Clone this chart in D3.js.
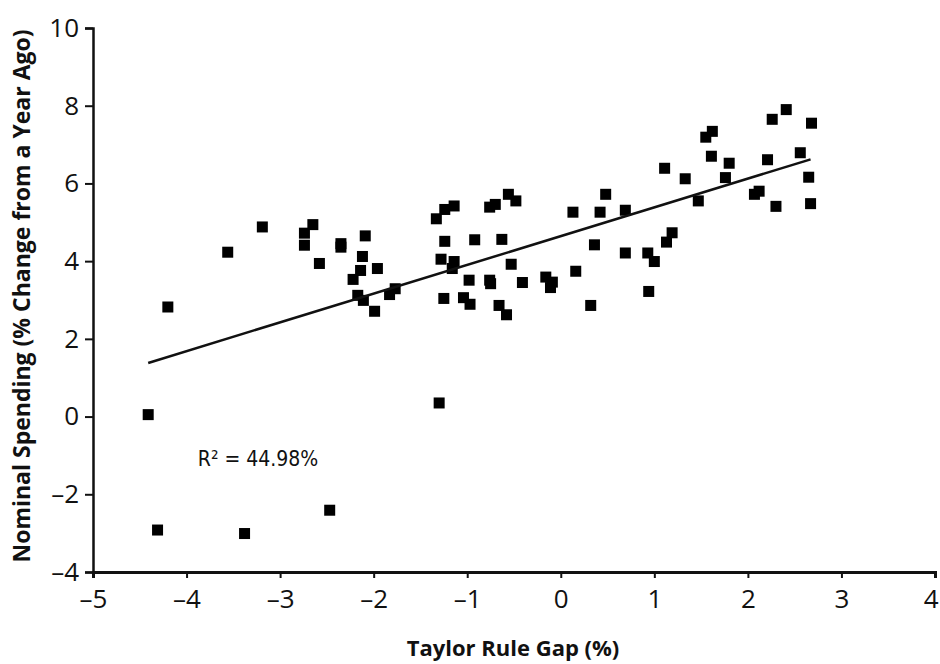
<!DOCTYPE html>
<html>
<head>
<meta charset="utf-8">
<script src="https://cdn.jsdelivr.net/npm/d3@7"></script>
<style>
  body { margin: 0; background: #fff; }
  .axis path, .axis line { stroke: #111; }
  .axis text { font-family: "Open Sans", "Noto Sans", sans-serif; fill: #111; }
</style>
</head>
<body>
<div id="chart"></div>
<script>
// Taylor rule gap (x) vs nominal spending growth (y)
var gapValues = [
  -4.41, -4.31, -4.20, -3.38, -2.47, -3.56, -3.19, -2.65, -2.74, -2.74,
  -2.58, -2.35, -2.35, -2.09, -2.12, -2.14, -2.22, -1.96, -2.17, -2.11,
  -1.99, -1.83, -1.77, -1.33, -1.24, -1.14, -1.24, -1.28, -1.14, -1.16,
  -1.25, -1.04, -0.97, -0.98, -0.92, -0.76, -0.70, -0.56, -0.48, -0.63,
  -0.53, -0.76, -0.75, -0.66, -0.58, -0.41, -0.16, -0.09, -0.11, 0.16,
  0.13, 0.42, 0.48, 0.36, 0.32, -1.30, 0.69, 1.11, 1.33, 1.47,
  1.55, 1.62, 1.61, 1.80, 1.76, 2.21, 2.26, 2.41, 2.68, 2.56,
  2.65, 2.67, 2.30, 2.07, 2.12, 0.69, 0.93, 1.00, 1.13, 1.19,
  0.94
];
var spendValues = [
  0.05, -2.92, 2.82, -3.01, -2.41, 4.23, 4.88, 4.94, 4.72, 4.41,
  3.94, 4.45, 4.36, 4.65, 4.12, 3.76, 3.53, 3.81, 3.12, 2.99,
  2.71, 3.14, 3.29, 5.09, 5.33, 5.42, 4.51, 4.05, 3.99, 3.81,
  3.04, 3.06, 2.89, 3.51, 4.55, 5.39, 5.46, 5.72, 5.55, 4.56,
  3.92, 3.51, 3.42, 2.86, 2.62, 3.45, 3.59, 3.46, 3.32, 3.74,
  5.26, 5.26, 5.72, 4.42, 2.86, 0.35, 5.31, 6.39, 6.12, 5.55,
  7.19, 7.34, 6.70, 6.52, 6.15, 6.61, 7.65, 7.90, 7.55, 6.79,
  6.16, 5.48, 5.41, 5.72, 5.80, 4.21, 4.21, 3.99, 4.49, 4.73,
  3.22
];
// fitted line end points
var trendX = [-4.41, 2.67];
var trendY = [1.38, 6.62];

var xTicks = [-5, -4, -3, -2, -1, 0, 1, 2, 3, 4];
var yTicks = [-4, -2, 0, 2, 4, 6, 8, 10];
var r2Label = "R\u00b2 = 44.98%";

var width = 940, height = 664;
var margin = { top: 28, right: 5, bottom: 92, left: 93 };
var w = width - margin.left - margin.right;
var h = height - margin.top - margin.bottom;

var svg = d3.select("#chart").append("svg")
    .attr("width", width)
    .attr("height", height);

var g = svg.append("g")
    .attr("transform", "translate(" + margin.left + "," + margin.top + ")");

var x = d3.scaleLinear().domain([-5, 4]).range([0, 842]);
var y = d3.scaleLinear().domain([-4, 10]).range([h, 0]);

var minus = function (d) { return d < 0 ? "\u2013" + Math.abs(d) : d; };

var xAxis = g.append("g")
    .attr("class", "x axis")
    .attr("transform", "translate(0," + h + ")")
    .call(d3.axisBottom(x).tickValues(xTicks).tickFormat(minus).tickSizeOuter(0).tickSize(6).tickPadding(12));
xAxis.select(".domain").attr("stroke-width", 3);
xAxis.selectAll(".tick line").attr("stroke-width", 2);
xAxis.selectAll(".tick text").style("font-size", "26px");
// last label sits on the page edge, keep it inside
xAxis.selectAll(".tick text").filter(function (d) { return d === 4; }).attr("text-anchor", "end").attr("dx", "3");

var yAxis = g.append("g")
    .attr("class", "y axis")
    .call(d3.axisLeft(y).tickValues(yTicks).tickFormat(minus).tickSizeOuter(0).tickSize(8).tickPadding(6));
yAxis.select(".domain").attr("stroke-width", 2.5);
yAxis.selectAll(".tick line").attr("stroke-width", 2);
yAxis.selectAll(".tick text").style("font-size", "26px");

/*  points  */
var pts = gapValues.map(function (d, i) { return { x: d, y: spendValues[i] }; });
g.selectAll(".pt")
    .data(pts)
    .enter().append("rect")
    .attr("class", "pt")
    .attr("x", function (d) { return x(d.x) - 5.5; })
    .attr("y", function (d) { return y(d.y) - 5.5; })
    .attr("width", 11)
    .attr("height", 11)
    .attr("fill", "#000");

/*  trend line  */
g.append("line")
    .attr("x1", x(trendX[0])).attr("y1", y(trendY[0]))
    .attr("x2", x(trendX[1])).attr("y2", y(trendY[1]))
    .attr("stroke", "#111")
    .attr("stroke-width", 2.5);

g.append("text")
    .attr("x", x(-3.88))
    .attr("y", y(-1.28))
    .style("font-family", "'Liberation Sans Narrow', 'DejaVu Sans Condensed', sans-serif")
    .style("font-size", "21px")
    .attr("fill", "#111")
    .text(r2Label);

/*  titles  */
svg.append("text")
    .attr("x", 513)
    .attr("y", 656)
    .attr("text-anchor", "middle")
    .style("font-family", "'Open Sans', sans-serif")
    .style("font-size", "22px")
    .style("font-weight", "700")
    .attr("fill", "#111")
    .text("Taylor Rule Gap (%)");

svg.append("text")
    .attr("transform", "translate(30,296) rotate(-90)")
    .attr("text-anchor", "middle")
    .style("font-family", "'Open Sans', sans-serif")
    .style("font-size", "23px")
    .style("font-weight", "700")
    .attr("fill", "#111")
    .text("Nominal Spending (% Change from a Year Ago)");
</script>
</body>
</html>
